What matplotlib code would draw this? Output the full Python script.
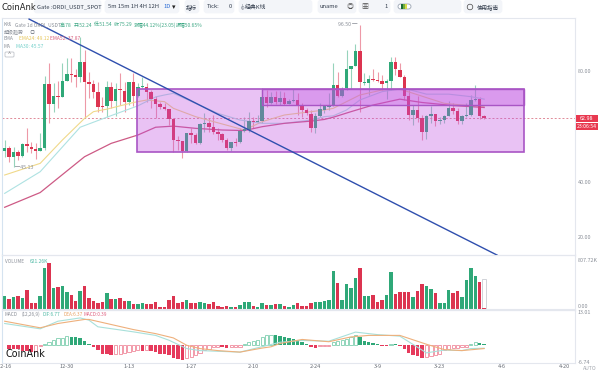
import matplotlib
matplotlib.use("Agg")
import matplotlib.pyplot as plt
from matplotlib.patches import Rectangle, FancyBboxPatch, Circle
import numpy as np

plt.rcParams['font.family'] = ['Noto Sans CJK SC', 'DejaVu Sans']

# daily candles
opens = [51.2,52.0,48.8,50.8,49.3,53.5,52.6,51.8,51.2,52.24,75.1,68.0,71.0,70.6,76.4,78.8,78.4,77.8,83.1,75.7,
         75.2,72.4,67.4,67.3,74.2,69.2,73.4,72.8,68.5,75.9,70.9,74.0,74.2,72.2,69.8,68.0,67.0,66.3,62.6,55.0,
         54.6,51.0,57.4,56.7,53.8,60.8,61.1,59.6,57.9,57.0,55.0,52.2,54.4,54.2,58.2,58.6,62.0,61.4,61.7,70.6,
         68.2,70.6,68.8,70.0,68.0,69.0,69.4,67.3,65.8,64.4,59.2,63.8,65.8,67.0,67.6,74.8,70.9,73.6,80.4,81.6,
         87.0,75.4,75.4,77.0,76.7,76.3,75.4,76.4,83.0,80.2,77.5,71.0,64.0,65.8,63.1,57.9,63.8,64.4,61.9,62.2,
         63.8,66.5,65.5,62.0,63.7,63.9,69.4,69.8,63.7]
highs = [55.0,52.9,52.6,51.4,53.8,59.2,54.4,53.8,57.7,78.0,82.8,75.4,76.4,82.8,84.4,84.4,80.4,92.1,87.4,79.6,
         76.6,76.0,70.6,76.4,76.0,75.4,79.0,75.7,76.0,79.2,75.4,77.8,75.4,73.0,70.9,68.8,68.2,66.3,62.8,56.4,
         54.6,57.6,59.2,57.4,61.0,64.6,62.8,64.0,59.2,57.6,55.6,54.4,55.6,59.2,63.4,65.2,63.4,64.0,73.6,73.0,
         72.4,72.7,72.7,72.4,69.6,73.2,71.8,68.2,66.4,65.8,64.6,68.2,67.6,71.8,82.8,79.6,73.9,87.4,81.6,89.6,
         96.5,79.0,78.4,80.4,79.5,78.4,76.9,84.8,84.8,82.6,78.4,73.0,67.6,70.9,64.0,64.0,67.3,64.4,63.4,64.0,
         69.2,68.2,66.4,64.0,68.2,71.2,74.8,70.6,64.0]
lows = [49.0,47.2,45.13,47.8,49.0,50.8,50.2,48.1,51.2,51.54,61.3,65.2,66.4,70.4,76.3,76.0,74.0,75.7,62.8,70.0,
        70.0,65.2,65.2,63.2,66.4,63.7,67.6,65.2,67.6,67.3,70.6,73.6,68.8,66.4,62.8,66.0,65.8,60.4,50.8,51.4,
        48.6,50.8,53.8,53.5,53.6,58.0,58.0,57.2,55.0,54.4,51.4,51.2,52.8,53.8,58.0,58.0,59.2,61.0,61.0,67.0,
        67.8,68.0,67.6,67.6,67.8,68.8,64.0,63.4,64.0,58.0,57.4,63.4,64.6,65.8,67.3,70.6,70.6,73.0,73.3,81.6,
        65.2,74.8,71.2,76.4,76.0,73.0,69.7,73.0,78.4,77.6,69.4,62.2,60.4,61.6,55.0,55.4,61.0,60.1,60.8,61.0,
        63.7,64.4,60.8,60.8,63.2,63.7,69.2,62.5,62.5]
closes = [52.2,49.0,50.8,49.3,53.6,52.8,51.9,51.2,52.2,75.29,68.0,70.9,70.4,76.3,78.8,78.3,77.8,83.1,75.7,75.2,
          72.4,67.0,67.0,74.2,69.2,73.4,72.9,68.5,75.9,70.9,73.9,74.5,72.2,69.8,68.0,66.8,66.3,62.6,55.0,54.6,
          51.0,57.4,56.7,53.8,60.6,61.1,59.6,57.9,57.2,55.0,52.2,54.3,54.0,58.2,58.8,62.0,61.5,61.8,70.6,68.2,
          70.3,68.8,70.1,67.8,69.2,69.4,67.3,65.8,64.6,59.2,63.6,66.0,67.2,67.4,74.8,70.9,73.4,80.4,81.6,87.0,
          75.7,75.7,76.9,76.6,76.4,75.3,76.1,83.0,80.4,77.6,71.0,64.0,65.8,63.1,57.9,63.7,64.4,62.0,62.2,63.7,
          66.5,65.5,61.9,63.7,64.0,69.4,69.8,63.7,62.98]

# volume in K
volumes = [232,179,220,226,197,330,116,110,232,712,807.72,371,388,400,301,243,151,324,405,197,
           151,110,127,278,179,179,203,145,139,98,98,104,87,98,122,41,41,156,232,104,
           122,156,110,104,127,116,93,133,58,41,58,41,46,75,133,122,58,35,116,75,
           81,93,87,58,35,75,104,58,52,110,122,133,139,162,660,452,162,440,365,538,
           718,232,232,255,127,156,249,648,261,307,301,295,208,324,446,400,353,290,116,116,
           336,284,313,220,510,718,579,469,17]
last_vol_ghost = 521

macd_hist = [-0.1,-1.4,-1.5,-1.6,-2.2,-2.4,-2.7,-2.4,-0.5,0.5,1.1,1.9,2.6,2.8,3.5,3.1,3.1,2.8,1.6,0.6,
             -0.7,-1.8,-3.4,-3.6,-3.8,-3.5,-3.4,-3.0,-2.7,-2.3,-2.0,-2.3,-2.0,-2.4,-2.8,-3.4,-3.6,-4.1,-5.2,-5.6,
             -6.1,-5.3,-4.7,-4.1,-3.1,-1.8,-1.4,-0.9,-0.7,-0.7,-1.1,-0.9,-0.7,-0.6,0.5,1.0,1.5,1.9,3.2,3.8,
             4.0,3.8,3.7,3.0,2.8,2.4,1.9,1.1,0.5,-0.6,-1.0,-0.5,-0.4,-0.2,1.1,1.6,1.9,2.4,3.1,3.9,
             3.0,1.6,1.2,0.7,0.5,-0.2,-0.5,0.5,0.5,-0.2,-1.4,-3.2,-3.8,-4.4,-5.3,-4.7,-4.4,-3.8,-3.4,-2.0,
             -1.5,-1.3,-1.1,-0.7,-0.6,0.5,1.2,0.7,0.39]

# moving averages, (day, value) read at the bends
ema24_days = [0,8,13,18,20,23,29,32,36,38,43,48,54,58,63,69,72,74,77,80,85,89,92,99,105,108]
ema24_vals = [42.4,46.6,55.0,62.8,65.2,66.1,68.5,69.4,68.8,66.4,63.4,61.2,58.6,61.6,64.0,65.2,65.8,66.4,68.8,71.2,73.0,73.3,71.8,68.2,67.3,67.0]
ma30_days = [0,8,17,23,30,34,36,38,43,48,53,58,63,69,72,74,77,80,85,90,95,100,105,108]
ma30_vals = [35.8,43.6,59.6,63.2,67.3,70.5,71.2,71.8,68.2,64.6,62.2,61.0,61.0,62.2,63.4,63.7,65.8,69.4,72.4,73.6,71.5,71.5,70.6,69.7]
ema52_days = [0,8,18,24,30,34,38,43,49,54,58,63,69,72,74,78,83,89,94,101,108]
ema52_vals = [30.8,36.1,49.0,53.8,56.8,59.6,60.0,59.2,58.6,58.4,59.8,61.0,61.8,62.4,63.2,65.2,67.6,69.7,68.5,67.4,66.7]

dea_days = [0,8,12,18,19,24,29,34,38,41,44,48,53,58,60,62,67,73,78,82,89,95,99,103,108]
dea_vals = [9.4,6.8,8.5,10.1,10.1,8.1,6.1,4.5,2.8,-0.1,-1.4,-2.2,-2.8,-1.2,-0.7,0.6,2.2,1.3,3.2,3.8,3.8,0.3,-1.8,-2.2,-1.4]
dif_days = [0,8,12,17,19,21,29,34,37,41,44,53,56,60,62,67,73,79,84,89,95,99,103,105,108]
dif_vals = [8.5,6.4,9.4,10.7,9.8,7.2,5.2,3.8,1.9,-1.4,-2.2,-2.8,-1.5,0.2,1.1,1.8,1.5,5.1,4.1,3.5,-3.1,-2.0,-2.2,-1.4,-1.25]

# drawn objects on the chart
trend_days = [5.5, 110.9]
trend_vals = [98.5, 13.6]
box_days = [29.9, 117.0]
box_vals = [50.7, 73.5]
inner_days = [58.0, 117.0]
inner_vals = [67.5, 73.5]
last_price = 62.98

date_pos = [0, 14, 28, 42, 56, 70, 84, 98, 112, 126]
date_labels = ['12-16', '12-30', '1-13', '1-27', '2-10', '2-24', '3-9', '3-23', '4-6', '4-20']

GREEN = '#2fa878'
RED = '#dc3450'
GREY = '#8a8f98'
LINE = '#e4e7ee'
W, H = 600, 372


def panel(top, bottom):
    # axes from pixel rows, left and right edges are shared
    ax = fig.add_axes([2 / W, 1 - bottom / H, 573 / W, (bottom - top) / H])
    ax.set_xlim(-0.6, 128.45)
    ax.set_facecolor('none')
    ax.yaxis.tick_right()
    ax.tick_params(length=0, labelsize=3.9, labelcolor=GREY, pad=2)
    ax.set_xticks([])
    for s in ax.spines.values():
        s.set_color(LINE)
        s.set_linewidth(0.8)
    ax.spines['left'].set_color('#d5e3f0')
    return ax


fig = plt.figure(figsize=(6, 3.72), dpi=100, facecolor='white')

days = np.arange(len(closes))
o, h, l, c = map(np.array, (opens, highs, lows, closes))
up = c >= o
colors = [GREEN if u else RED for u in up]

# toolbar drawn in pixel coords
bar = fig.add_axes([0, 0, 1, 1], zorder=10)
bar.set_xlim(0, W)
bar.set_ylim(H, 0)
bar.axis('off')
bar.patch.set_alpha(0)
for x0, x1 in [(33, 102), (104, 180), (184, 200), (203, 235), (238, 313), (317, 357), (358, 391), (393, 462), (463, 503)]:
    bar.add_patch(FancyBboxPatch((x0 + 2, 1), x1 - x0 - 4, 11, boxstyle='round,pad=0,rounding_size=2',
                                 mutation_aspect=1, fc='#f3f5f9', ec='#f3f5f9', lw=2))
bar.text(1, 7, 'CoinAnk', fontsize=6.0, color='#222222', va='center', family='DejaVu Sans')
top_labels = [(37, 'Gate :ORDI_USDT_SPOT', 4.1), (108, '5m 15m 1H 4H 12H', 4.2), (186, '指标', 4), (207, 'Tick:', 4.2),
              (229, '0', 4.2), (245, '经典K线', 4.2), (320, 'uname', 4.2), (384, '1', 4.2), (477, '使用指南', 4)]
for x, t, fs in top_labels:
    bar.text(x, 7, t, fontsize=fs, color='#333d4d', va='center')
bar.text(163, 7, '1D', fontsize=4.2, color='#2f6fd6', va='center')
bar.text(172, 7, '▾', fontsize=5, color='#222222', va='center')
bar.text(350, 7, '◎', fontsize=5, color='#555555', va='center', ha='center')
bar.text(365, 7, '▦', fontsize=5, color='#555555', va='center', ha='center')
bar.text(241, 7, '⟨|⟩', fontsize=3.2, color='#333d4d', va='center')
bar.add_patch(Circle((470, 7), 2.8, fc='none', ec='#444444', lw=0.5))
bar.add_patch(FancyBboxPatch((398, 4), 13, 5, boxstyle='round,pad=0,rounding_size=2.5', fc='white', ec='#8a95a5', lw=0.5))
bar.add_patch(Rectangle((401, 4.4), 2, 4.2, fc='#1c6b3a', ec='none'))
bar.add_patch(Rectangle((403, 4.4), 2, 4.2, fc='#6fae3e', ec='none'))
bar.add_patch(Rectangle((405, 4.4), 1.5, 4.2, fc='#d8d84a', ec='none'))

# legend rows
bar.text(4, 25, 'K线', fontsize=3.5, color=GREY, va='center')
bar.text(15, 25, 'Gate 1d ORDI_USDT', fontsize=3.5, color=GREY, va='center')
for x, t in [(60, '高:78'), (74, '开:52.24'), (94, '低:51.54'), (114, '收:75.29'), (134, '涨幅44.12%(23.05)'), (176, '振幅50.65%')]:
    bar.text(x, 25, t, fontsize=3.5, color='#3aa682', va='center')
bar.text(4, 32, '超级趋势', fontsize=3.6, color=GREY, va='center')
bar.text(32, 32, '◎', fontsize=3.8, color=GREY, va='center', ha='center')
bar.text(4, 39, 'EMA', fontsize=3.5, color=GREY, va='center')
bar.text(19, 39, 'EMA24: 49.12', fontsize=3.5, color='#e6c65a', va='center')
bar.text(50, 39, 'EMA52: 37.87', fontsize=3.5, color='#d9607f', va='center')
bar.text(4, 46.5, 'MA', fontsize=3.5, color=GREY, va='center')
bar.text(16, 46.5, 'MA30: 45.57', fontsize=3.5, color='#72cfc9', va='center')
bar.add_patch(FancyBboxPatch((5, 52), 9, 5, boxstyle='round,pad=0,rounding_size=1', fc='white', ec='#b5b9c0', lw=0.5))
bar.text(9.5, 54.5, '^', fontsize=4, color='#777777', va='center', ha='center')

# last price tags and axis corner
bar.add_patch(Rectangle((575.5, 114.5), 22, 7, fc='#e8384f', ec='none'))
bar.add_patch(Rectangle((575.5, 122.5), 22, 7.5, fc='#e8384f', ec='none'))
bar.text(586.5, 118, f'{last_price:.2f}', fontsize=3.9, color='white', va='center', ha='center')
bar.text(586.5, 126.2, '23:06:54', fontsize=3.7, color='white', va='center', ha='center')
bar.text(583, 368, 'AUTO', fontsize=3.7, color='#a5a9b0', va='center')
bar.text(5.5, 354, 'CoinAnk', fontsize=6.9, color='#111111', va='center', family='DejaVu Sans')

# price panel
ax = panel(18, 255)
ax.set_ylim(13.63, 98.9)
ax.set_yticks([20, 40, 80])
ax.set_yticklabels(['20.00', '40.00', '80.00'])
ax.vlines(days, l, h, color=colors, lw=0.8, alpha=0.5, zorder=2)
ax.bar(days, np.abs(c - o), bottom=np.minimum(o, c), width=0.78, color=colors, zorder=3)
ax.plot(ema24_days, ema24_vals, color='#f0d98a', lw=0.8, zorder=2.5)
ax.plot(ma30_days, ma30_vals, color='#aee2e2', lw=0.8, zorder=2.5)
ax.plot(ema52_days, ema52_vals, color='#cd5a85', lw=0.9, zorder=2.5)
ax.axhline(last_price, color='#e08a98', lw=0.7, dashes=(2, 2), zorder=2)
ax.add_patch(Rectangle((box_days[0], box_vals[0]), box_days[1] - box_days[0], box_vals[1] - box_vals[0],
                       fc='#c050e0', alpha=0.35, ec='none', zorder=5))
ax.add_patch(Rectangle((inner_days[0], inner_vals[0]), inner_days[1] - inner_days[0], inner_vals[1] - inner_vals[0],
                       fc='#c050e0', alpha=0.35, ec='none', zorder=5))
ax.add_patch(Rectangle((box_days[0], box_vals[0]), box_days[1] - box_days[0], box_vals[1] - box_vals[0],
                       fc='none', ec='#a955c5', lw=1.2, zorder=6))
ax.add_patch(Rectangle((inner_days[0], inner_vals[0]), inner_days[1] - inner_days[0], inner_vals[1] - inner_vals[0],
                       fc='none', ec='#a955c5', lw=1.0, zorder=6))
ax.plot(trend_days, trend_vals, color='#2f4fae', lw=1.0, zorder=7)
ax.text(80 - 0.6, max(highs), f'{max(highs):.2f} ─', fontsize=3.8, color=GREY, ha='right', va='center', zorder=8)
ax.text(2.3, min(lows), f'─{min(lows):.2f}', fontsize=3.8, color=GREY, ha='left', va='center', zorder=8)

# volume panel
vax = panel(255, 310)
vax.set_ylim(-10, 946)
vax.set_yticks([0, 807.72])
vax.set_yticklabels(['0.00', '807.72K'], va='bottom')
vax.bar(days[-1], last_vol_ghost, width=0.78, fc='white', ec='#c9ccd2', lw=0.6)
vax.bar(days, volumes, width=0.78, color=colors)
vax.axhline(0, color=LINE, lw=0.8)
vax.text(0.005, 0.92, 'VOLUME', transform=vax.transAxes, fontsize=3.4, color=GREY, va='top')
vax.text(0.048, 0.92, '621.26K', transform=vax.transAxes, fontsize=3.6, color='#4fb9a5', va='top')

# macd panel
max_ = panel(310, 363)
max_.set_ylim(-7.1, 13.83)
max_.set_yticks([-6.74, 13.01])
max_.set_yticklabels(['-6.74', '13.01'], va='center')
prev = None
for d, v in zip(days, macd_hist):
    # rising bars are hollow, falling bars solid
    col = GREEN if v >= 0 else '#e63a5c'
    hollow = prev is not None and v > prev
    if hollow:
        max_.bar(d, v, width=0.72, fc='white', ec=('#7fcfb0' if v >= 0 else '#f08a9c'), lw=0.6)
    else:
        max_.bar(d, v, width=0.78, color=col)
    prev = v
max_.plot(dif_days, dif_vals, color='#a8e0da', lw=0.8)
max_.plot(dea_days, dea_vals, color='#eeb07c', lw=0.8)
for fx, t, col in [(0.005, 'MACD', GREY), (0.035, '(12,26,9)', GREY), (0.0715, 'DIF:6.77', '#4fb9a5'),
                   (0.1065, 'DEA:6.37', '#e9a060'), (0.143, 'MACD:0.39', '#e06080')]:
    max_.text(fx, 0.97, t, transform=max_.transAxes, fontsize=3.4, color=col, va='top')
max_.set_xticks(date_pos)
max_.set_xticklabels(date_labels, fontsize=4.0, color='#666b74')
max_.tick_params(axis='x', pad=0.5)

fig.savefig('out.png', dpi=100)
